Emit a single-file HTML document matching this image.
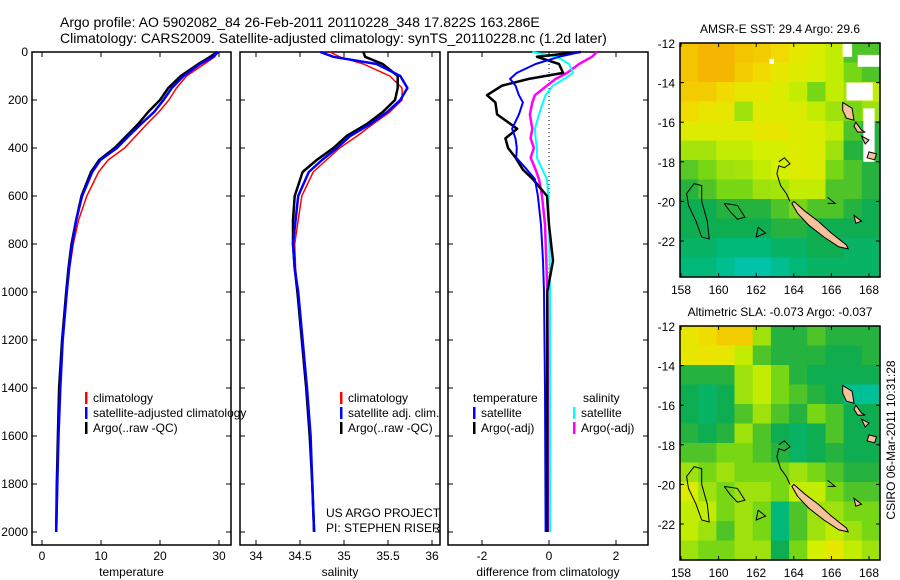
<!DOCTYPE html>
<html><head><meta charset="utf-8">
<style>
html,body{margin:0;padding:0;background:#fff;}
svg{display:block;font-family:"Liberation Sans",sans-serif;}
text{font-size:12px;fill:#000;}
</style></head>
<body>
<svg id="fig" width="900" height="580" viewBox="0 0 900 580" xmlns="http://www.w3.org/2000/svg">
<text x="60" y="27" style="font-size:14px">Argo profile: AO 5902082_84 26-Feb-2011 20110228_348 17.822S 163.286E</text>
<text x="60" y="43" style="font-size:14px">Climatology: CARS2009. Satellite-adjusted climatology: synTS_20110228.nc (1.2d later)</text>
<text transform="translate(895,440) rotate(-90)" text-anchor="middle">CSIRO 06-Mar-2011 10:31:28</text>
<g id="g"></g>
</svg>
<script>
// ---- profile data ----
const depths = [0,20,50,100,150,200,250,300,350,400,450,500,600,700,800,900,1000,1200,1400,1600,1800,2000];
const tempClim = [29.6,29.3,27.5,24.5,22.8,21.5,19.8,17.8,15.9,14.0,11.2,9.6,7.6,6.2,5.3,4.7,4.2,3.5,3.1,2.8,2.6,2.4];
const tempSat  = [29.9,29.0,26.8,24.0,22.0,20.6,19.0,16.8,14.7,12.7,9.9,8.5,6.8,5.8,5.1,4.6,4.2,3.5,3.1,2.8,2.6,2.4];
const tempArgo = [29.7,28.5,26.5,23.5,21.4,20.0,18.0,16.3,14.3,12.3,9.7,8.3,6.7,5.8,5.0,4.5,4.1,3.4,2.9,2.7,2.5,2.4];
const salClim = [34.84,34.95,35.22,35.52,35.66,35.66,35.52,35.33,35.15,34.95,34.80,34.65,34.52,34.48,34.44,34.45,34.47,34.52,34.57,34.61,34.64,34.66];
const salSat  = [34.73,34.88,35.37,35.64,35.72,35.64,35.49,35.30,35.07,34.92,34.75,34.60,34.48,34.45,34.42,34.44,34.48,34.53,34.58,34.62,34.64,34.66];
const salArgo = [35.22,35.24,35.44,35.61,35.61,35.58,35.44,35.26,35.03,34.88,34.69,34.53,34.44,34.42,34.42,34.44,34.47,34.52,34.57,34.61,34.64,34.66];
const diffDepths = [0,20,50,87,112,140,180,210,260,320,360,400,440,490,530,600,720,870,1000,1400,2000];
const diffTempSat  = [0.93,0.3,-0.4,-0.96,-1.16,-1.0,-0.9,-0.78,-0.9,-1.1,-1.0,-0.96,-0.98,-0.66,-0.42,-0.33,-0.24,-0.18,-0.15,-0.12,-0.1];
const diffTempArgo = [0.95,-0.36,0.3,0.42,-0.6,-1.4,-1.85,-1.6,-1.55,-0.95,-1.3,-1.22,-1.0,-0.78,-0.48,-0.06,0.0,0.12,-0.05,-0.05,-0.05];
const diffSalSat  = [-0.5,0.24,0.6,0.72,0.45,0.12,-0.1,-0.18,-0.3,-0.42,-0.4,-0.36,-0.36,-0.2,-0.06,-0.02,0.0,0.02,0.03,0.03,0.03];
const diffSalArgo = [1.43,1.28,0.9,0.54,0.2,-0.06,-0.42,-0.5,-0.57,-0.5,-0.55,-0.45,-0.55,-0.4,-0.3,-0.21,-0.12,-0.08,-0.05,-0.03,-0.02];
const depthTicks = [0,200,400,600,800,1000,1200,1400,1600,1800,2000];
const tempTicks = [0,10,20,30];
const salTicks = [34,34.5,35,35.5,36];
const diffTicks = [-2,0,2];
// ---- map data (rows lat 12..23, cols lon 158..168) ----
const sstGrid = [
[.82,.86,.86,.82,.8,.76,.7,.65,.6,.45,.45],
[.82,.86,.86,.8,.76,.7,.66,.64,.6,.5,.45],
[.8,.8,.76,.7,.7,.65,.6,.5,.6,.55,.6],
[.76,.72,.7,.55,.66,.66,.65,.6,.55,.5,.55],
[.66,.66,.66,.66,.7,.7,.66,.65,.6,.45,.4],
[.56,.56,.6,.6,.62,.63,.66,.65,.55,.4,.4],
[.46,.5,.55,.56,.6,.62,.66,.65,.5,.45,.4],
[.4,.45,.5,.5,.55,.56,.6,.6,.45,.45,.4],
[.35,.35,.4,.4,.4,.45,.5,.45,.45,.4,.35],
[.35,.35,.35,.35,.35,.4,.4,.35,.35,.35,.35],
[.3,.3,.25,.25,.25,.3,.3,.35,.35,.3,.3],
[.25,.25,.2,.15,.15,.2,.25,.3,.3,.3,.3]];
const slaGrid = [
[.7,.75,.8,.8,.55,.4,.4,.45,.4,.4,.4],
[.7,.72,.7,.6,.45,.4,.4,.4,.36,.36,.4],
[.4,.4,.4,.55,.6,.5,.4,.35,.35,.35,.35],
[.35,.3,.35,.55,.6,.5,.45,.4,.35,.2,.18],
[.35,.3,.35,.45,.55,.45,.4,.5,.45,.35,.35],
[.4,.35,.4,.55,.45,.35,.3,.35,.45,.35,.35],
[.45,.45,.5,.5,.45,.4,.3,.35,.4,.35,.35],
[.55,.5,.55,.5,.5,.5,.55,.5,.45,.4,.4],
[.65,.55,.5,.55,.55,.5,.6,.6,.5,.45,.45],
[.6,.6,.5,.55,.5,.25,.45,.55,.55,.5,.5],
[.6,.55,.45,.55,.5,.25,.45,.55,.6,.55,.5],
[.55,.5,.5,.55,.55,.35,.5,.62,.7,.6,.55]];
const latTicks = [12,14,16,18,20,22];
const lonTicks = [158,160,162,164,166,168];
const nCal = [[164.0,20.0],[164.6,20.5],[165.3,21.0],[166.0,21.6],[166.8,22.2],[166.9,22.4],[166.4,22.3],[165.6,21.8],[164.8,21.2],[164.2,20.6],[163.9,20.1]];
const vanuatu = [[[166.6,15.0],[167.1,15.3],[167.2,15.9],[166.8,15.8],[166.6,15.4]],[[167.3,16.0],[167.6,16.4],[167.8,16.5],[167.4,16.5],[167.2,16.2]],[[168.0,17.5],[168.4,17.6],[168.3,17.9],[167.9,17.8]],[[167.6,16.7],[168.0,16.9],[167.8,17.1]],[[167.2,20.7],[167.6,21.0],[167.3,21.1]]];
const ridge = [[[163.2,18.0],[163.5,17.8],[163.8,18.1],[163.5,18.3],[163.2,18.2],[163.1,18.6],[163.3,19.2],[163.6,19.6],[163.8,20.0]],[[158.7,19.1],[159.1,19.2],[159.1,20.0],[159.4,21.0],[159.5,21.9],[159.1,21.8],[158.8,21.0],[158.4,20.2],[158.3,19.6],[158.7,19.1]],[[160.3,20.1],[161.0,20.2],[161.4,20.8],[161.0,20.9],[160.6,20.5],[160.3,20.1]],[[162.1,21.3],[162.5,21.6],[162.0,21.8],[162.1,21.3]],[[165.8,19.8],[166.2,20.1],[165.8,20.1]]];

const NS='http://www.w3.org/2000/svg';
const root=document.getElementById('g');
function mk(tag,attrs,parent){const e=document.createElementNS(NS,tag);for(const k in attrs)e.setAttribute(k,attrs[k]);(parent||root).appendChild(e);return e;}
function txt(x,y,s,anchor,parent){const t=mk('text',{x:x,y:y,'text-anchor':anchor||'start'},parent);t.textContent=s;return t;}

const yTop=52,yBot=545;
function yD(d){return 52+d*0.24;}

function panel(name,x0,x1,xs,xticks,xlabel,showY){
  const g=mk('g',{});
  
  
  const r=mk('rect',{x:x0,y:yTop,width:x1-x0,height:yBot-yTop,fill:'none',stroke:'#000','stroke-width':1.5},g);
  
  
  xticks.forEach(v=>{const x=xs(v);
    mk('line',{x1:x,y1:yBot,x2:x,y2:yBot-5,stroke:'#000'},g);
    mk('line',{x1:x,y1:yTop,x2:x,y2:yTop+5,stroke:'#000'},g);
    const t=txt(x,yBot+15,String(v),'middle',g);
    
    
  });
  depthTicks.forEach(d=>{const y=yD(d);
    mk('line',{x1:x0,y1:y,x2:x0+5,y2:y,stroke:'#000'},g);
    mk('line',{x1:x1,y1:y,x2:x1-5,y2:y,stroke:'#000'},g);
    if(showY){const t=txt(x0-4,y+4,String(d),'end',g);
      
      }
  });
  const xl=txt((x0+x1)/2,yBot+31,xlabel,'middle',g);
  
  
  return g;
}
function series(g,dep,vals,xs,color,w,name){
  let d='';dep.forEach((z,i)=>{d+=(i?'L':'M')+xs(vals[i]).toFixed(1)+','+yD(z).toFixed(1);});
  const p=mk('path',{d:d,fill:'none',stroke:color,'stroke-width':w,'stroke-linejoin':'round'},g);
  
  
}
function legend(g,x,y,items){
  items.forEach((it,i)=>{
    const yy=y+i*15;
    if(it.c){const m=mk('rect',{x:x,y:yy-10,width:2.5,height:12,fill:it.c},g);
      
      }
    const t=txt(x+(it.c?8:0),yy,it.t,'start',g);
    
    
  });
}

// temperature panel
const xT=v=>42+v*5.9;
const g1=panel('temperature-panel',32,231,xT,tempTicks,'temperature',true);
series(g1,depths,tempClim,xT,'#f00',1.5,'temp-climatology-line');
series(g1,depths,tempArgo,xT,'#000',2.5,'temp-argo-line');
series(g1,depths,tempSat,xT,'#00f',2.5,'temp-satellite-line');
legend(g1,85,402,[{c:'#f00',t:'climatology'},{c:'#00f',t:'satellite-adjusted climatology'},{c:'#000',t:'Argo(..raw -QC)'}]);

// salinity panel
const xS=v=>256+(v-34)*88;
const g2=panel('salinity-panel',240,440,xS,salTicks,'salinity',false);
series(g2,depths,salClim,xS,'#f00',1.5,'sal-climatology-line');
series(g2,depths,salArgo,xS,'#000',2.5,'sal-argo-line');
series(g2,depths,salSat,xS,'#00f',2.5,'sal-satellite-line');
legend(g2,340,402,[{c:'#f00',t:'climatology'},{c:'#00f',t:'satellite adj. clim.'},{c:'#000',t:'Argo(..raw -QC)'}]);
legend(g2,326,517,[{t:'US ARGO PROJECT'},{t:'PI: STEPHEN RISER'}]);

// difference panel
const xDf=v=>549+v*33.5;
const g3=panel('difference-panel',448,648,xDf,diffTicks,'difference from climatology',false);
const zl=mk('line',{x1:549,y1:yTop,x2:549,y2:yD(1000),stroke:'#000','stroke-dasharray':'1,3'},g3);


series(g3,diffDepths,diffSalArgo,xDf,'#f0f',2.5,'diff-sal-argo-line');
series(g3,diffDepths,diffSalSat,xDf,'#0ff',2,'diff-sal-satellite-line');
series(g3,diffDepths,diffTempArgo,xDf,'#000',2.5,'diff-temp-argo-line');
series(g3,diffDepths,diffTempSat,xDf,'#00f',2,'diff-temp-satellite-line');
legend(g3,473,402,[{t:'temperature'}]);
legend(g3,473,417,[{c:'#00f',t:'satellite'},{c:'#000',t:'Argo(-adj)'}]);
legend(g3,583,402,[{t:'salinity'}]);
legend(g3,573,417,[{c:'#0ff',t:'satellite'},{c:'#f0f',t:'Argo(-adj)'}]);

// colormap
const stops=[[0.1,[0,200,190]],[0.25,[0,185,120]],[0.38,[20,170,70]],[0.5,[120,215,20]],[0.62,[210,240,0]],[0.74,[240,225,0]],[0.88,[245,175,0]]];
function cmap(v){if(v<=stops[0][0])return stops[0][1];for(let i=1;i<stops.length;i++){if(v<=stops[i][0]){const a=stops[i-1],b=stops[i],t=(v-a[0])/(b[0]-a[0]);return a[1].map((c,k)=>Math.round(c+(b[1][k]-c)*t));}}return stops[stops.length-1][1];}

function mapPanel(name,title,y0,grid,whites){
  const x0=680,x1=880,y1=y0+234;
  const lx=l=>681+(l-158)*18.8, ly=l=>y0+(l-12)*19.8;
  const g=mk('g',{});
  
  
  const cw=(x1-x0)/grid[0].length, ch=(y1-y0)/grid.length;
  grid.forEach((row,i)=>row.forEach((v,j)=>{
    const c=cmap(v);
    const r=mk('rect',{x:(x0+j*cw).toFixed(1),y:(y0+i*ch).toFixed(1),width:(cw+0.6).toFixed(1),height:(ch+0.6).toFixed(1),fill:'rgb('+c.join(',')+')'},g);
    
    
  }));
  (whites||[]).forEach(w=>{const r=mk('rect',{x:lx(w[0]),y:ly(w[1]),width:w[2]*18.8,height:w[3]*19.8,fill:'#fff'},g);
    
    });
  ridge.forEach(p=>{const d=p.map((q,i)=>(i?'L':'M')+lx(q[0]).toFixed(1)+','+ly(q[1]).toFixed(1)).join('');
    const e=mk('path',{d:d,fill:'none',stroke:'#000','stroke-width':1},g);
    
    });
  [nCal].concat(vanuatu).forEach(p=>{const d=p.map((q,i)=>(i?'L':'M')+lx(q[0]).toFixed(1)+','+ly(q[1]).toFixed(1)).join('')+'Z';
    const e=mk('path',{d:d,fill:'#f7c29a',stroke:'#000','stroke-width':1},g);
    
    });
  const f=mk('rect',{x:x0,y:y0,width:x1-x0,height:y1-y0,fill:'none',stroke:'#000','stroke-width':1.5},g);
  
  
  latTicks.forEach(l=>{const y=ly(l);mk('line',{x1:x0,y1:y,x2:x0+4,y2:y,stroke:'#000'},g);mk('line',{x1:x1,y1:y,x2:x1-4,y2:y,stroke:'#000'},g);
    const t=txt(x0-5,y+5,'-'+l,'end',g);});
  lonTicks.forEach(l=>{const x=lx(l);mk('line',{x1:x,y1:y1,x2:x,y2:y1-4,stroke:'#000'},g);mk('line',{x1:x,y1:y0,x2:x,y2:y0+4,stroke:'#000'},g);
    const t=txt(x,y1+17,String(l),'middle',g);});
  const tt=txt(780,y0-10,title,'middle',g);
  
  
}
mapPanel('sst-map','AMSR-E SST: 29.4  Argo: 29.6',43,sstGrid,[[166.6,12,0.5,0.7],[162.7,12.8,0.25,0.25],[167.4,12.6,1.3,0.6],[166.8,14.0,1.4,0.9],[167.7,15.3,0.6,2.7]]);
mapPanel('sla-map','Altimetric SLA: -0.073  Argo: -0.037',326,slaGrid,[]);
</script>
</body></html>
